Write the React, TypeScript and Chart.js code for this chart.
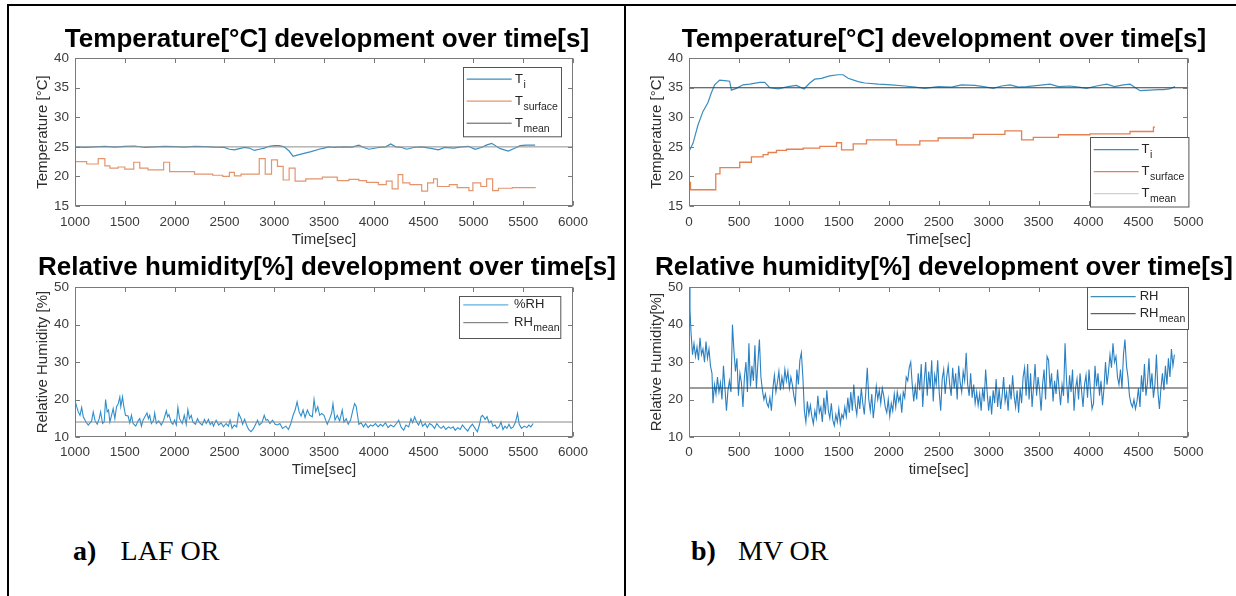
import { useEffect, useRef } from 'react';
import { Chart, registerables } from 'chart.js';
Chart.register(...registerables);

const SANS = "'Liberation Sans', Arial, Helvetica, sans-serif";
const SERIF = "'Liberation Serif', 'Times New Roman', serif";
const TICK = '#3c3c3c';
const LAB = '#2e2e2e';

type P = [number, number];

// ---------------- DATA ----------------
const timeRangeA: P = [1000, 6000];
const timeRangeB: P = [0, 5000];
const tempRange: P = [15, 40];
const rhRange: P = [10, 50];
const timeStep = 500;
const tempStep = 5;
const rhStep = 10;

const tMeanA = 25;
const rhMeanA = 14.0;
const tMeanB = 35;
const rhMeanB = 23.1;

const tiA: P[] = [
  [1000, 25.0], [1100, 24.9], [1200, 25.0], [1300, 25.1], [1400, 24.95], [1500, 25.1], [1600, 25.15],
  [1700, 24.9], [1800, 25.0], [1900, 25.1], [2000, 25.05], [2100, 24.95], [2200, 25.1], [2300, 25.05],
  [2400, 24.95], [2500, 24.9], [2550, 24.6], [2600, 24.5], [2650, 24.7], [2700, 24.9], [2750, 24.8],
  [2800, 24.4], [2850, 24.6], [2900, 24.8], [2950, 25.1], [3000, 25.2], [3050, 25.2], [3100, 25.0],
  [3150, 24.3], [3190, 23.4], [3230, 23.6], [3300, 23.9], [3370, 24.2], [3450, 24.6], [3500, 24.8],
  [3550, 25.0], [3600, 24.9], [3700, 25.0], [3780, 24.95], [3850, 25.3], [3900, 24.9], [3950, 24.6],
  [4050, 24.9], [4120, 25.0], [4170, 25.5], [4220, 25.0], [4280, 24.9], [4330, 24.6], [4400, 24.9],
  [4480, 25.0], [4560, 24.8], [4650, 24.5], [4710, 24.9], [4800, 24.8], [4880, 25.0], [4950, 25.1],
  [5017, 24.6], [5080, 24.9], [5130, 25.3], [5183, 25.6], [5230, 25.1], [5270, 24.7], [5350, 24.3],
  [5420, 24.8], [5470, 25.2], [5530, 25.3], [5620, 25.3],
];

const tSurfA: P[] = [
  [1000, 22.5], [1117, 22.1], [1233, 23.0], [1300, 21.8], [1350, 21.4], [1433, 21.6], [1500, 21.25],
  [1590, 22.4], [1650, 21.4], [1733, 21.1], [1890, 22.4], [1950, 20.8], [2200, 20.4], [2383, 20.2],
  [2483, 20.0], [2550, 20.7], [2600, 20.1], [2667, 20.4], [2850, 23.0], [2910, 20.4], [2973, 22.8],
  [3033, 21.7], [3090, 19.4], [3150, 21.4], [3210, 19.2], [3317, 19.6], [3483, 19.9], [3633, 19.3],
  [3750, 19.5], [3850, 19.3], [3927, 19.0], [4046, 18.6], [4125, 19.2], [4184, 17.9], [4244, 20.3],
  [4291, 18.9], [4362, 18.6], [4481, 17.5], [4540, 18.9], [4600, 19.6], [4639, 18.3], [4758, 18.6],
  [4837, 18.1], [4955, 17.6], [4995, 18.9], [5074, 18.3], [5133, 19.6], [5193, 17.6], [5252, 18.0],
  [5390, 18.1], [5620, 18.2],
];

const rhA: P[] = [
  [1000, 19.8], [1017, 18.1], [1033, 16.7], [1050, 15.8], [1067, 17.9], [1083, 15.4], [1110, 14.0],
  [1133, 13.2], [1167, 14.3], [1183, 16.7], [1200, 14.5], [1223, 13.4], [1243, 14.9], [1257, 16.7],
  [1277, 13.6], [1293, 14.0], [1307, 20.0], [1323, 16.7], [1337, 17.2], [1350, 14.0], [1367, 15.8],
  [1383, 17.6], [1400, 14.9], [1417, 18.1], [1433, 18.8], [1450, 20.7], [1460, 18.1], [1477, 20.7],
  [1490, 18.2], [1507, 15.8], [1533, 15.6], [1550, 13.8], [1567, 15.8], [1583, 13.6], [1610, 12.9],
  [1633, 14.3], [1650, 14.9], [1667, 12.9], [1683, 14.5], [1710, 15.8], [1723, 16.4], [1737, 14.9],
  [1750, 15.8], [1767, 13.6], [1790, 14.5], [1800, 16.4], [1817, 13.6], [1840, 14.3], [1867, 13.2],
  [1890, 14.5], [1917, 17.0], [1930, 15.4], [1943, 16.0], [1967, 13.8], [1983, 13.4], [2000, 14.5],
  [2017, 13.2], [2033, 17.9], [2050, 14.9], [2077, 13.6], [2097, 15.8], [2117, 13.4], [2133, 17.3],
  [2150, 14.9], [2167, 15.8], [2183, 14.0], [2210, 13.4], [2230, 14.9], [2250, 13.8], [2277, 13.2],
  [2300, 14.7], [2317, 13.6], [2340, 14.7], [2357, 13.3], [2377, 14.0], [2390, 12.9], [2417, 14.5],
  [2443, 13.2], [2467, 13.8], [2490, 12.7], [2517, 13.6], [2540, 12.9], [2557, 14.5], [2577, 12.3],
  [2600, 13.2], [2623, 12.7], [2643, 16.3], [2667, 14.9], [2683, 13.4], [2703, 14.7], [2723, 13.2],
  [2743, 12.0], [2767, 11.4], [2793, 12.3], [2817, 13.6], [2833, 14.5], [2850, 13.2], [2877, 13.8],
  [2900, 15.8], [2917, 14.5], [2933, 14.7], [2957, 13.6], [2983, 14.5], [3010, 13.4], [3033, 13.2],
  [3057, 13.6], [3083, 12.3], [3117, 12.9], [3143, 12.0], [3167, 13.6], [3190, 15.8], [3210, 17.2],
  [3230, 19.4], [3250, 16.7], [3270, 15.6], [3290, 17.2], [3310, 15.2], [3333, 17.2], [3357, 15.8],
  [3383, 15.4], [3400, 20.0], [3417, 16.7], [3437, 18.1], [3457, 15.8], [3477, 16.3], [3500, 15.8],
  [3517, 14.5], [3533, 13.4], [3557, 14.9], [3577, 16.4], [3590, 18.9], [3610, 14.5], [3633, 15.8],
  [3657, 14.3], [3683, 17.2], [3700, 14.0], [3723, 14.9], [3743, 13.4], [3767, 14.5], [3790, 17.2],
  [3807, 18.9], [3823, 18.2], [3850, 13.4], [3873, 13.8], [3897, 12.7], [3917, 13.6], [3943, 12.5],
  [3967, 13.2], [3990, 12.9], [4017, 13.6], [4043, 12.7], [4067, 13.4], [4090, 12.9], [4117, 13.8],
  [4143, 12.5], [4170, 13.2], [4200, 12.7], [4227, 13.6], [4250, 14.5], [4273, 12.7], [4300, 11.8],
  [4323, 13.2], [4350, 12.7], [4373, 14.9], [4390, 13.8], [4410, 15.4], [4430, 14.0], [4450, 13.2],
  [4470, 14.5], [4490, 12.9], [4517, 13.6], [4537, 12.5], [4560, 13.6], [4583, 13.2], [4610, 12.3],
  [4633, 13.6], [4657, 12.7], [4677, 12.3], [4700, 12.9], [4723, 12.0], [4750, 12.7], [4773, 12.3],
  [4797, 12.7], [4817, 11.8], [4843, 12.5], [4867, 12.0], [4890, 13.2], [4917, 12.3], [4943, 11.6],
  [4967, 12.7], [4990, 13.4], [5017, 12.3], [5040, 11.4], [5060, 13.2], [5077, 15.4], [5090, 15.8],
  [5103, 15.4], [5117, 14.7], [5137, 15.4], [5157, 13.8], [5177, 14.3], [5197, 12.9], [5217, 13.2],
  [5237, 12.3], [5257, 12.7], [5277, 14.0], [5297, 12.0], [5317, 12.9], [5337, 12.3], [5357, 13.4],
  [5377, 12.3], [5400, 12.7], [5423, 14.0], [5443, 16.3], [5460, 13.4], [5483, 12.3], [5510, 12.9],
  [5537, 12.5], [5557, 13.2], [5577, 12.7], [5600, 13.6],
];

const tiB: P[] = [
  [0, 24.2], [40, 25.6], [90, 28.7], [140, 31.0], [190, 32.5], [223, 34.1], [257, 35.5], [307, 36.3],
  [357, 36.2], [407, 36.1], [424, 34.6], [474, 34.9], [541, 35.5], [608, 35.6], [708, 35.9], [758, 35.9],
  [808, 35.0], [892, 34.8], [992, 35.2], [1075, 35.4], [1152, 34.8], [1209, 35.8], [1259, 36.45],
  [1326, 36.6], [1409, 37.0], [1493, 37.2], [1543, 37.2], [1593, 36.6], [1693, 36.05], [1760, 35.8],
  [1894, 35.6], [2027, 35.5], [2161, 35.3], [2261, 35.1], [2361, 34.9], [2494, 35.2], [2628, 35.1],
  [2728, 35.5], [2862, 35.4], [2950, 35.2], [3046, 34.9], [3130, 35.3], [3213, 35.5], [3300, 35.1],
  [3380, 35.2], [3500, 35.4], [3614, 35.6], [3700, 35.2], [3814, 35.3], [3900, 35.1], [3981, 34.9],
  [4080, 35.3], [4182, 35.6], [4260, 35.2], [4349, 35.5], [4416, 35.6], [4470, 35.0], [4516, 34.5],
  [4616, 34.6], [4700, 34.7], [4750, 34.7], [4810, 34.8], [4867, 35.2],
];

const tSurfB: P[] = [
  [0, 19.0], [15, 17.75], [268, 20.45], [310, 21.5], [508, 22.4], [625, 23.3], [742, 23.7], [792, 24.05],
  [876, 24.4], [976, 24.6], [1143, 24.8], [1310, 25.1], [1477, 25.7], [1527, 24.5], [1644, 25.5],
  [1777, 26.2], [2077, 25.35], [2311, 26.0], [2495, 26.5], [2846, 27.1], [3163, 27.7], [3330, 26.2],
  [3447, 26.6], [3698, 27.05], [4015, 27.2], [4416, 27.6], [4650, 28.35], [4666, 28.35],
];

const rhB: P[] = [
  [0, 50.0], [10, 44], [20, 38], [35, 32], [50, 35], [65, 31.5], [80, 34], [95, 30.5], [110, 36.5],
  [125, 32], [140, 33.5], [155, 30], [170, 35.5], [185, 31], [200, 33.5], [215, 29], [230, 27], [240, 19],
  [255, 24], [270, 21.5], [285, 26], [300, 22], [315, 24.5], [330, 20], [345, 29], [360, 23], [375, 17],
  [390, 22.5], [405, 25], [420, 22], [435, 40], [450, 33], [465, 27.5], [480, 31], [495, 21], [510, 27],
  [525, 24.5], [540, 18], [555, 26], [570, 30], [585, 22], [600, 35], [615, 23.5], [630, 29], [645, 25],
  [660, 34.5], [675, 23], [690, 30], [705, 36], [720, 26], [735, 22.5], [750, 20], [765, 21.5], [780, 19],
  [795, 18], [810, 20.5], [825, 17], [840, 23], [855, 26.5], [870, 22], [885, 24.5], [900, 27.5],
  [915, 22.5], [930, 26], [945, 23.5], [960, 28], [975, 25], [990, 27.5], [1005, 23], [1020, 26],
  [1035, 24], [1050, 21], [1065, 19], [1080, 28], [1095, 24], [1110, 30.5], [1125, 32.5], [1140, 26],
  [1155, 17], [1170, 14], [1185, 19.5], [1200, 16], [1215, 18.5], [1230, 15.5], [1245, 13.5], [1260, 17],
  [1275, 15], [1290, 21], [1305, 16.5], [1320, 18], [1335, 14], [1350, 20.5], [1365, 16], [1380, 22.5],
  [1395, 17], [1410, 15], [1425, 19], [1440, 14.5], [1455, 13], [1470, 16], [1485, 14], [1500, 17.5],
  [1515, 13.5], [1530, 16], [1545, 15], [1560, 18], [1575, 15.5], [1590, 20.5], [1605, 16.5], [1620, 22],
  [1635, 17], [1650, 24], [1665, 18.5], [1680, 16], [1695, 21], [1710, 17.5], [1725, 23], [1740, 19],
  [1755, 16], [1770, 22], [1785, 28.5], [1800, 20], [1815, 17], [1830, 21.5], [1845, 15], [1860, 19],
  [1875, 23.5], [1890, 20], [1905, 22.5], [1920, 19], [1935, 23], [1950, 21], [1965, 18], [1980, 16.5],
  [1995, 20], [2010, 15.5], [2025, 19], [2040, 17], [2055, 21.5], [2070, 18], [2085, 22], [2100, 19.5],
  [2115, 21], [2130, 16.5], [2145, 22], [2160, 20.5], [2175, 26], [2190, 25], [2205, 28.5], [2220, 30],
  [2235, 24], [2250, 19.5], [2265, 23.5], [2280, 20], [2295, 27], [2310, 22.5], [2325, 29.5], [2340, 18],
  [2355, 25], [2370, 30], [2385, 21], [2400, 27.5], [2415, 23], [2430, 30.5], [2445, 19.5], [2460, 26.5],
  [2475, 24], [2490, 30.5], [2505, 22], [2520, 17], [2535, 25.5], [2550, 28], [2565, 21.5], [2580, 26],
  [2595, 29], [2610, 24], [2625, 21], [2640, 28.5], [2655, 23], [2670, 27], [2685, 20], [2700, 29],
  [2715, 24.5], [2730, 22], [2745, 27.5], [2760, 25], [2775, 32.5], [2790, 24], [2805, 21], [2820, 27],
  [2835, 20.5], [2850, 24], [2865, 19], [2880, 22], [2895, 18.5], [2910, 21.5], [2925, 17], [2940, 23],
  [2955, 19.5], [2970, 28], [2985, 22], [3000, 17], [3015, 21], [3030, 16], [3045, 22.5], [3060, 19],
  [3075, 25.5], [3090, 18], [3105, 23], [3120, 17.5], [3135, 21], [3150, 26], [3165, 19.5], [3180, 22],
  [3195, 17], [3210, 24], [3225, 20], [3240, 26.5], [3255, 21], [3270, 18], [3285, 22.5], [3300, 16.5],
  [3315, 23], [3330, 19], [3345, 26], [3360, 28.5], [3375, 21], [3390, 29.5], [3405, 20], [3420, 27],
  [3435, 18], [3450, 23.5], [3465, 29.5], [3480, 21], [3495, 26], [3510, 22.5], [3525, 17], [3540, 24],
  [3555, 28], [3570, 20], [3585, 31.5], [3600, 30.5], [3615, 23], [3630, 27], [3645, 19.5], [3660, 25],
  [3675, 21.5], [3690, 28], [3705, 23], [3720, 18.5], [3735, 24], [3750, 21], [3765, 35], [3780, 25],
  [3795, 19], [3810, 26.5], [3825, 22], [3840, 28], [3855, 17], [3870, 23], [3885, 25.5], [3900, 20],
  [3915, 27], [3930, 22.5], [3945, 18], [3960, 24], [3975, 26.5], [3990, 20.5], [4005, 28], [4020, 22],
  [4035, 17.5], [4050, 19], [4065, 29], [4080, 23.5], [4095, 27], [4110, 21], [4125, 25], [4140, 18.5],
  [4155, 23], [4170, 30], [4185, 24], [4200, 27.5], [4215, 32], [4230, 28.5], [4245, 35], [4260, 30],
  [4275, 31.5], [4290, 26], [4305, 24], [4320, 28], [4335, 23], [4350, 32], [4365, 36], [4380, 29],
  [4395, 26], [4410, 21], [4425, 19], [4440, 18], [4455, 20], [4470, 17.5], [4485, 19.5], [4500, 23],
  [4515, 18], [4530, 26.5], [4545, 22], [4560, 29.5], [4575, 21], [4590, 24.5], [4605, 31], [4620, 23],
  [4635, 27], [4650, 20.5], [4665, 24], [4680, 32], [4695, 22], [4710, 17.5], [4725, 23], [4740, 27],
  [4755, 22.5], [4770, 29], [4785, 24], [4800, 31], [4815, 26], [4830, 33.5], [4845, 29], [4860, 32],
];

// ---------------- RENDERING ----------------
type Row = { color: string; width: number; main: string; sub?: string; y: number };
type LegendSpec = { x: number; y: number; w: number; h: number; x0: number; x1: number; tx: number; rows: Row[] };
type DS = { data: P[]; color: string; width: number; stepped?: boolean; order: number };
type PanelSpec = {
  left: number; top: number; w: number; h: number;
  title: string; titlePad: [number, number];
  xr: P; yr: P; yStep: number;
  xTitle: string; yTitle: string;
  xH: number; xTickPad: number; xTitlePadB: number; rightW: number;
  datasets: DS[]; legend: LegendSpec;
};

const matlabPlugin = {
  id: 'matlabAxes',
  afterDraw(chart: any, _args: any, opts: any) {
    const { ctx, chartArea: a } = chart;
    const xs = chart.scales.x;
    const ys = chart.scales.y;
    ctx.save();
    const L = Math.round(a.left) + 0.5;
    const R = Math.round(a.right) - 0.5;
    const T = Math.round(a.top) + 0.5;
    const B = Math.round(a.bottom) - 0.5;
    ctx.strokeStyle = '#7a7a7a';
    ctx.lineWidth = 1;
    ctx.strokeRect(L, T, R - L, B - T);
    const tl = 4.5;
    ctx.beginPath();
    xs.ticks.forEach((t: any) => {
      const px = Math.round(xs.getPixelForValue(t.value)) + 0.5;
      ctx.moveTo(px, B); ctx.lineTo(px, B - tl);
      ctx.moveTo(px, T); ctx.lineTo(px, T + tl);
    });
    ys.ticks.forEach((t: any) => {
      const py = Math.round(ys.getPixelForValue(t.value)) + 0.5;
      ctx.moveTo(L, py); ctx.lineTo(L + tl, py);
      ctx.moveTo(R, py); ctx.lineTo(R - tl, py);
    });
    ctx.stroke();

    const lg: LegendSpec = opts.legend;
    if (lg) {
      const bx = Math.round(a.left + lg.x) + 0.5;
      const by = Math.round(a.top + lg.y) + 0.5;
      ctx.fillStyle = '#ffffff';
      ctx.fillRect(bx, by, lg.w, lg.h);
      ctx.strokeStyle = '#555555';
      ctx.strokeRect(bx, by, lg.w, lg.h);
      lg.rows.forEach((r) => {
        const y = a.top + r.y;
        ctx.beginPath();
        ctx.strokeStyle = r.color;
        ctx.lineWidth = r.width;
        ctx.moveTo(a.left + lg.x0, y);
        ctx.lineTo(a.left + lg.x1, y);
        ctx.stroke();
        ctx.fillStyle = '#262626';
        ctx.textBaseline = 'middle';
        ctx.textAlign = 'left';
        ctx.font = `13px ${SANS}`;
        const tx = a.left + lg.tx;
        ctx.fillText(r.main, tx, y);
        if (r.sub) {
          const w = ctx.measureText(r.main).width;
          ctx.font = `10.5px ${SANS}`;
          ctx.fillText(r.sub, tx + w + 0.5, y + 5.5);
        }
      });
    }
    ctx.restore();
  },
};

function buildConfig(s: PanelSpec): any {
  return {
    type: 'line',
    data: {
      datasets: s.datasets.map((d) => ({
        data: d.data.map(([x, y]) => ({ x, y })),
        borderColor: d.color,
        borderWidth: d.width,
        pointRadius: 0,
        stepped: d.stepped ? true : false,
        tension: 0,
        fill: false,
        order: d.order,
        xAxisID: 'x',
        yAxisID: 'y',
      })),
    },
    options: {
      animation: false,
      responsive: false,
      events: [],
      layout: { padding: 0 },
      plugins: {
        legend: { display: false },
        tooltip: { enabled: false },
        title: {
          display: true,
          text: s.title,
          color: '#000000',
          font: { family: SANS, size: 26, weight: 'bold', lineHeight: 1.2 },
          padding: { top: s.titlePad[0], bottom: s.titlePad[1] },
        },
        matlabAxes: { legend: s.legend },
      },
      scales: {
        x: {
          type: 'linear',
          position: 'bottom',
          min: s.xr[0],
          max: s.xr[1],
          afterFit: (sc: any) => { sc.height = s.xH; },
          grid: { display: false, drawTicks: false },
          border: { display: false },
          ticks: {
            stepSize: timeStep,
            autoSkip: false,
            maxRotation: 0,
            padding: s.xTickPad,
            color: TICK,
            font: { family: SANS, size: 13.5 },
            callback: (v: any) => String(v),
          },
          title: {
            display: true,
            text: s.xTitle,
            color: LAB,
            font: { family: SANS, size: 15, lineHeight: 1.2 },
            padding: { top: 0, bottom: s.xTitlePadB },
          },
        },
        y: {
          type: 'linear',
          position: 'left',
          min: s.yr[0],
          max: s.yr[1],
          afterFit: (sc: any) => { sc.width = 48; },
          grid: { display: false, drawTicks: false },
          border: { display: false },
          ticks: {
            stepSize: s.yStep,
            autoSkip: false,
            padding: 6,
            color: TICK,
            font: { family: SANS, size: 13.5 },
            callback: (v: any) => String(v),
          },
          title: {
            display: true,
            text: s.yTitle,
            color: LAB,
            font: { family: SANS, size: 15, lineHeight: 1.2 },
            padding: { top: 7, bottom: 0 },
          },
        },
        yr: {
          type: 'linear',
          position: 'right',
          min: s.yr[0],
          max: s.yr[1],
          afterFit: (sc: any) => { sc.width = s.rightW; },
          grid: { display: false, drawTicks: false },
          border: { display: false },
          ticks: { display: false },
        },
      },
    },
    plugins: [matlabPlugin],
  };
}

function Panel({ spec }: { spec: PanelSpec }) {
  const ref = useRef<HTMLCanvasElement>(null);
  useEffect(() => {
    const chart = new Chart(ref.current as HTMLCanvasElement, buildConfig(spec));
    return () => chart.destroy();
  }, []);
  return (
    <canvas
      ref={ref}
      width={spec.w}
      height={spec.h}
      style={{ position: 'absolute', left: spec.left, top: spec.top, width: spec.w, height: spec.h }}
    />
  );
}

const C_TI = '#3b8dbd';
const C_RH_A = '#2f8fcc';
const C_RH_B = '#2a80c2';

const panels: PanelSpec[] = [
  {
    left: 27, top: 14, w: 600, h: 238,
    title: 'Temperature[°C] development over time[s]', titlePad: [10, 3],
    xr: timeRangeA, yr: tempRange, yStep: tempStep,
    xTitle: 'Time[sec]', yTitle: 'Temperature [°C]',
    xH: 46, xTickPad: 8, xTitlePadB: 3, rightW: 54,
    datasets: [
      { data: tiA, color: C_TI, width: 1.2, order: 1 },
      { data: tSurfA, color: '#e4956c', width: 1.2, stepped: true, order: 2 },
      { data: [[timeRangeA[0], tMeanA], [timeRangeA[1], tMeanA]], color: '#8f8f8f', width: 1, order: 0 },
    ],
    legend: {
      x: 387.6, y: 8.4, w: 98, h: 69.3, x0: 391.7, x1: 436.7, tx: 440,
      rows: [
        { color: C_TI, width: 1.3, main: 'T', sub: 'i', y: 21 },
        { color: '#e4956c', width: 1.3, main: 'T', sub: 'surface', y: 43 },
        { color: '#555555', width: 1, main: 'T', sub: 'mean', y: 65 },
      ],
    },
  },
  {
    left: 27, top: 250, w: 600, h: 232,
    title: 'Relative humidity[%] development over time[s]', titlePad: [2, 4],
    xr: timeRangeA, yr: rhRange, yStep: rhStep,
    xTitle: 'Time[sec]', yTitle: 'Relative Humidity [%]',
    xH: 45, xTickPad: 7, xTitlePadB: 3, rightW: 54,
    datasets: [
      { data: rhA, color: C_RH_A, width: 1.1, order: 1 },
      { data: [[timeRangeA[0], rhMeanA], [timeRangeA[1], rhMeanA]], color: '#8a8a8a', width: 1, order: 0 },
    ],
    legend: {
      x: 384.4, y: 8.7, w: 101.3, h: 42, x0: 388.3, x1: 433.3, tx: 439,
      rows: [
        { color: '#5fb2e0', width: 1.2, main: '%RH', y: 17.7 },
        { color: '#6a6a6a', width: 1, main: 'RH', sub: 'mean', y: 35.5 },
      ],
    },
  },
  {
    left: 641, top: 14, w: 606, h: 238,
    title: 'Temperature[°C] development over time[s]', titlePad: [10, 3],
    xr: timeRangeB, yr: tempRange, yStep: tempStep,
    xTitle: 'Time[sec]', yTitle: 'Temperature [°C]',
    xH: 46, xTickPad: 8, xTitlePadB: 3, rightW: 58.6,
    datasets: [
      { data: tiB, color: C_TI, width: 1.2, order: 1 },
      { data: tSurfB, color: '#e5804f', width: 1.3, stepped: true, order: 2 },
      { data: [[timeRangeB[0], tMeanB], [timeRangeB[1], tMeanB]], color: '#3d3d3d', width: 1, order: 0 },
    ],
    legend: {
      x: 400.7, y: 78.7, w: 98.4, h: 69.5, x0: 404.7, x1: 449.7, tx: 452.5,
      rows: [
        { color: C_TI, width: 1.3, main: 'T', sub: 'i', y: 91.5 },
        { color: '#e5804f', width: 1.3, main: 'T', sub: 'surface', y: 113.5 },
        { color: '#c4c4c4', width: 1, main: 'T', sub: 'mean', y: 135.5 },
      ],
    },
  },
  {
    left: 641, top: 250, w: 606, h: 232,
    title: 'Relative humidity[%] development over time[s]', titlePad: [2, 4],
    xr: timeRangeB, yr: rhRange, yStep: rhStep,
    xTitle: 'time[sec]', yTitle: 'Relative Humidity[%]',
    xH: 45, xTickPad: 7, xTitlePadB: 3, rightW: 58.6,
    datasets: [
      { data: rhB, color: C_RH_B, width: 1.1, order: 1 },
      { data: [[timeRangeB[0], rhMeanB], [timeRangeB[1], rhMeanB]], color: '#3a3a3a', width: 1.1, order: 0 },
    ],
    legend: {
      x: 397.7, y: 0, w: 101, h: 42, x0: 401.7, x1: 446.7, tx: 450.7,
      rows: [
        { color: '#3d8fb8', width: 1.3, main: 'RH', y: 9.4 },
        { color: '#3a3a3a', width: 1, main: 'RH', sub: 'mean', y: 26.5 },
      ],
    },
  },
];

const line = (l: number, t: number, w: number, h: number) => (
  <div style={{ position: 'absolute', left: l, top: t, width: w, height: h, background: '#000' }} />
);

export default function App() {
  const lab: any = { position: 'absolute', top: 536.5, fontFamily: SERIF, fontSize: 28, lineHeight: '28px', color: '#000', whiteSpace: 'nowrap' };
  return (
    <div style={{ position: 'absolute', left: 0, top: 0, width: 1236, height: 596, background: '#fff', overflow: 'hidden' }}>
      {line(7, 4, 1229, 2)}
      {line(7, 4, 2, 592)}
      {line(624, 4, 2, 592)}
      {panels.map((p, i) => <Panel key={i} spec={p} />)}
      <div style={{ ...lab, left: 73, fontWeight: 'bold' }}>a)</div>
      <div style={{ ...lab, left: 120.6 }}>LAF OR</div>
      <div style={{ ...lab, left: 691, fontWeight: 'bold' }}>b)</div>
      <div style={{ ...lab, left: 738 }}>MV OR</div>
    </div>
  );
}
